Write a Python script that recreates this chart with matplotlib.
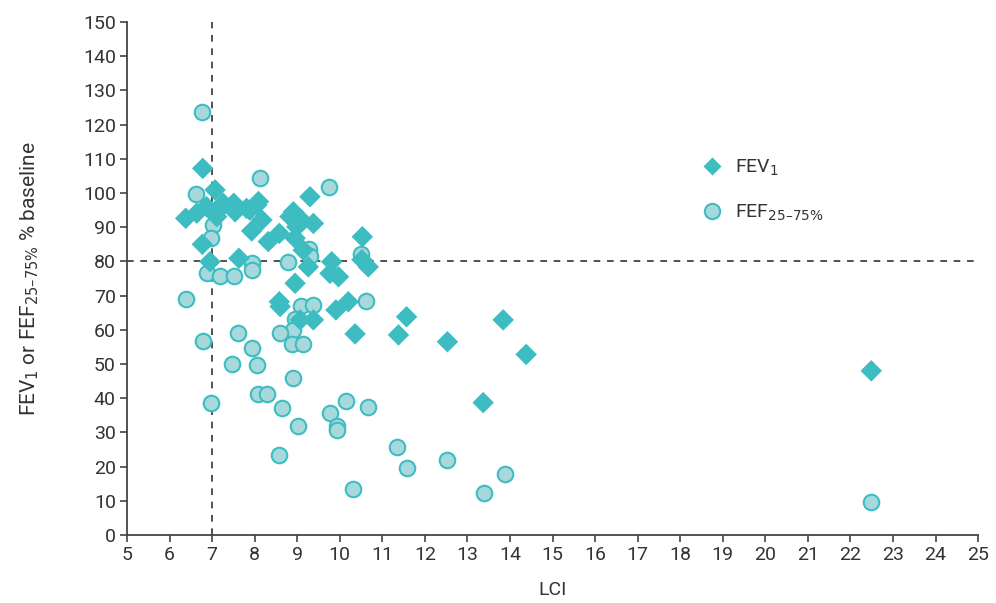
import matplotlib
matplotlib.use("Agg")
import matplotlib.pyplot as plt
from matplotlib.lines import Line2D

plt.rcParams['font.family'] = ['Roboto', 'DejaVu Sans']

fev_lci = [6.38, 6.64, 6.78, 6.87, 7.07, 6.77, 6.95, 7.26, 7.51, 7.54, 7.11, 7.15,
           7.63, 7.93, 7.89, 7.81, 8.09, 8.05, 8.17, 8.32, 8.58, 8.95, 8.91, 8.83,
           8.99, 9.10, 9.38, 9.30, 9.14, 9.26, 8.95, 9.81, 9.77, 9.97, 10.53, 10.52,
           10.67, 8.58, 8.60, 10.20, 9.91, 9.07, 9.38, 10.36, 11.38, 11.57, 12.53,
           13.84, 14.38, 13.37, 22.49]
fev_pct = [92.6, 94.1, 107.2, 96.0, 100.9, 85.0, 79.9, 97.0, 97.0, 94.5, 93.1, 95.0,
           80.9, 88.9, 95.0, 95.5, 97.5, 96.5, 92.1, 85.8, 88.2, 86.8, 94.5, 93.1,
           90.1, 92.1, 91.1, 98.9, 83.3, 78.4, 73.6, 79.9, 76.5, 75.5, 87.2, 80.5,
           78.4, 68.2, 66.8, 68.2, 65.8, 62.9, 62.9, 58.8, 58.5, 63.8, 56.5,
           62.9, 52.8, 38.7, 48.0]

fef_lci = [6.77, 8.13, 9.75, 6.62, 7.01, 6.97, 9.28, 9.30, 10.49, 8.78, 6.87, 7.19,
           7.51, 7.93, 7.93, 6.38, 9.10, 9.36, 10.62, 8.95, 8.89, 8.60, 8.87, 9.14,
           7.62, 6.79, 7.93, 7.46, 8.05, 8.91, 8.07, 8.28, 6.97, 8.64, 9.77, 10.15,
           10.66, 9.03, 9.93, 9.93, 8.57, 11.34, 11.57, 12.51, 13.88, 13.39, 10.31,
           22.49]
fef_pct = [123.6, 104.3, 101.9, 99.6, 90.6, 86.7, 83.5, 81.6, 82.1, 79.9, 76.7, 75.8,
           75.8, 79.4, 77.5, 68.9, 67.0, 67.3, 68.5, 63.1, 59.9, 59.0, 55.8, 55.8,
           59.2, 56.7, 54.8, 50.0, 49.7, 45.8, 41.2, 41.2, 38.5, 37.2, 35.6, 39.2,
           37.3, 31.9, 31.9, 30.7, 23.4, 25.8, 19.7, 21.9, 17.7, 12.2, 13.5,
           9.6]

x_ticks = list(range(5, 26))
y_ticks = list(range(0, 151, 10))
lci_cut = 7
pct_cut = 80

teal = '#3dbdc2'
light = '#a7d9dc'
dark = '#333333'

fig = plt.figure(figsize=(9.96, 6.03), dpi=100)
ax = fig.add_axes([0.1275, 0.1128, 0.8545, 0.8507])

ax.axvline(lci_cut, color=dark, lw=1.2, ls=(0, (4, 4)), zorder=1)
ax.axhline(pct_cut, color=dark, lw=1.2, ls=(0, (4, 4)), zorder=1)

ax.scatter(fef_lci, fef_pct, s=125, marker='o', facecolor=light, edgecolor=teal,
           linewidth=1.5, zorder=2)
ax.scatter(fev_lci, fev_pct, s=120, marker='D', facecolor=teal, edgecolor='none',
           zorder=3)

ax.set_xlim(5, 25)
ax.set_ylim(0, 150)
ax.set_xticks(x_ticks)
ax.set_yticks(y_ticks)
for s in ['top', 'right']:
    ax.spines[s].set_visible(False)
for s in ['left', 'bottom']:
    ax.spines[s].set_color('#444444')
    ax.spines[s].set_linewidth(1.3)
ax.tick_params(direction='out', length=5, width=1.2, color='#444444',
               labelsize=14, labelcolor=dark, pad=3)

ax.set_xlabel('LCI', fontsize=14, color=dark, labelpad=12)
ax.set_ylabel('FEV$_1$ or FEF$_{25\u201375\\%}$ % baseline', fontsize=15, color=dark,
              labelpad=30)

handles = [
    Line2D([], [], marker='D', ls='none', markersize=9, markerfacecolor=teal,
           markeredgecolor='none'),
    Line2D([], [], marker='o', ls='none', markersize=11, markerfacecolor=light,
           markeredgecolor=teal, markeredgewidth=1.5),
]
leg = ax.legend(handles, ['FEV$_1$', 'FEF$_{25\u201375\\%}$'], loc='upper left',
                bbox_to_anchor=(0.653, 0.77), frameon=False, fontsize=14,
                labelspacing=1.3, handletextpad=0.6, handlelength=1.2)
for t in leg.get_texts():
    t.set_color(dark)

fig.savefig('out.png', dpi=100)
